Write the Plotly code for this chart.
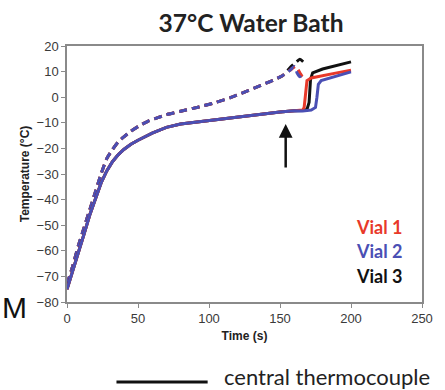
import plotly.graph_objects as go

# ---- data ----
t_early = [0, 4, 8, 12, 16, 20, 24, 28, 32, 36, 40, 45, 50, 60, 70, 80, 90, 100, 110, 120, 130, 140, 150, 160]
T_solid_early = [-75, -68, -61, -53.5, -46, -39.5, -33.5, -28.8, -25.2, -22.5, -20.4, -18.4, -16.8, -14, -11.8, -10.5, -9.8, -9.1, -8.5, -7.8, -7.0, -6.3, -5.8, -5.3]

t_red_late = [166, 167, 168, 169, 172, 180, 190, 200]
T_red_late = [-5.0, -4.0, 3.0, 6.5, 7.5, 8.5, 9.5, 10.5]
t_black_late = [166, 169, 170.5, 171.5, 173, 180, 190, 200]
T_black_late = [-5.2, -4.8, -2.0, 7.0, 9.5, 11.0, 12.5, 13.8]
t_blue_late = [166, 172, 175, 176, 177, 179, 185, 192, 200]
T_blue_late = [-5.4, -5.0, -4.0, 0.0, 5.0, 6.5, 7.5, 8.8, 9.9]

t_dash_early = [0, 4, 8, 12, 16, 20, 24, 28, 32, 36, 40, 45, 50, 57, 64, 70, 80, 93, 105, 116, 125, 134, 145, 152]
T_dash_early = [-73, -66, -58, -51, -44, -37, -30, -24, -20.5, -17.5, -15.5, -13.3, -11.5, -9.4, -8.0, -6.8, -5.5, -3.8, -2.0, 0.0, 2.0, 4.0, 6.6, 8.5]
t_red_dash_late = [157, 161, 164, 166, 168]
T_red_dash_late = [10.5, 12.0, 9.5, 8.0, 9.0]
t_black_dash_late = [157, 161, 164, 167]
T_black_dash_late = [11.5, 13.5, 14.8, 13.5]
t_blue_dash_late = [157, 160, 162, 164, 165]
T_blue_dash_late = [10.5, 12.0, 9.5, 8.0, 9.0]

vial_names = ["Vial 1", "Vial 2", "Vial 3"]
x_ticks = [0, 50, 100, 150, 200, 250]
y_ticks = [20, 10, 0, -10, -20, -30, -40, -50, -60, -70, -80]

RED = "#e8392a"
BLUE = "#4a4fb4"
BLACK = "#111111"

fig = go.Figure()

series = [
    (t_black_late, T_black_late, t_black_dash_late, T_black_dash_late, BLACK),
    (t_red_late, T_red_late, t_red_dash_late, T_red_dash_late, RED),
    (t_blue_late, T_blue_late, t_blue_dash_late, T_blue_dash_late, BLUE),
]
for tl, Tl, tdl, Tdl, col in series:
    fig.add_trace(go.Scatter(x=t_dash_early + tdl, y=T_dash_early + Tdl, mode="lines",
                             line=dict(color=col, width=3, dash="8px,5px", shape="spline", smoothing=0.6),
                             showlegend=False))
for tl, Tl, tdl, Tdl, col in series:
    fig.add_trace(go.Scatter(x=t_early + tl, y=T_solid_early + Tl, mode="lines",
                             line=dict(color=col, width=3), showlegend=False))

axis_common = dict(showline=True, linecolor="#8a8a8a", linewidth=1.5, mirror=True,
                   showgrid=False, zeroline=False, ticks="outside", ticklen=4,
                   tickcolor="#8a8a8a", tickwidth=1,
                   tickfont=dict(family="Liberation Sans", size=13, color="#3a3a3a"))

fig.update_xaxes(range=[0, 250], tickvals=x_ticks, **axis_common,
                 title=dict(text="<b>Time (s)</b>", font=dict(family="Liberation Sans", size=12, color="#222"), standoff=6))
fig.update_yaxes(range=[-80, 20], tickvals=y_ticks, **axis_common,
                 title=dict(text="<b>Temperature (°C)</b>", font=dict(family="Liberation Sans", size=12, color="#222"), standoff=4))

# arrow
fig.add_annotation(x=154, y=-10.5, ax=154, ay=-28, xref="x", yref="y", axref="x", ayref="y",
                   text="", showarrow=True, arrowhead=2, arrowsize=1.1, arrowwidth=2.5, arrowcolor="#111")

W, H = 445, 390
l, r, t, b = 67, 12, 46, 88
pw, ph = W - l - r, H - t - b


def P(px, py):
    return (px - l) / pw, 1 - (py - t) / ph


# vial labels
for name, col, yp in zip(vial_names, [RED, BLUE, BLACK], [227, 251, 276]):
    ax_, ay_ = P(415, yp)
    fig.add_annotation(x=ax_, y=ay_, xref="paper", yref="paper", text=f"<b>{name}</b>",
                       showarrow=False, xanchor="right", yanchor="middle",
                       font=dict(family="Lato", size=18, color=col))

fig.update_layout(
    width=W, height=H,
    margin=dict(l=l, r=r, t=t, b=b),
    paper_bgcolor="white", plot_bgcolor="white",
    title=dict(text="<b>37°C Water Bath</b>", x=251 / W, xanchor="center", y=1 - 23 / H, yanchor="middle",
               font=dict(family="Lato", size=24.5, color="#222")),
)

# outside-plot decorations
x0, y0 = P(118, 382)
x1, _ = P(212, 382)
fig.add_shape(type="line", xref="paper", yref="paper", x0=x0, y0=y0, x1=x1, y1=y0,
              line=dict(color="#111", width=3))
tx, ty = P(227, 387)
fig.add_annotation(x=tx, y=ty, xref="paper", yref="paper", text="central thermocouple",
                   showarrow=False, xanchor="left", yanchor="bottom", yshift=-5,
                   font=dict(family="Lato", size=22, color="#222"))
mx, my = P(0, 307)
fig.add_annotation(x=mx, y=my, xref="paper", yref="paper", text="M",
                   showarrow=False, xanchor="left", yanchor="middle", xshift=-2,
                   font=dict(family="Liberation Sans", size=30, color="#111"))

fig.write_html("out.html", config={"displayModeBar": False},
               post_script="document.body.style.margin='0px';")
